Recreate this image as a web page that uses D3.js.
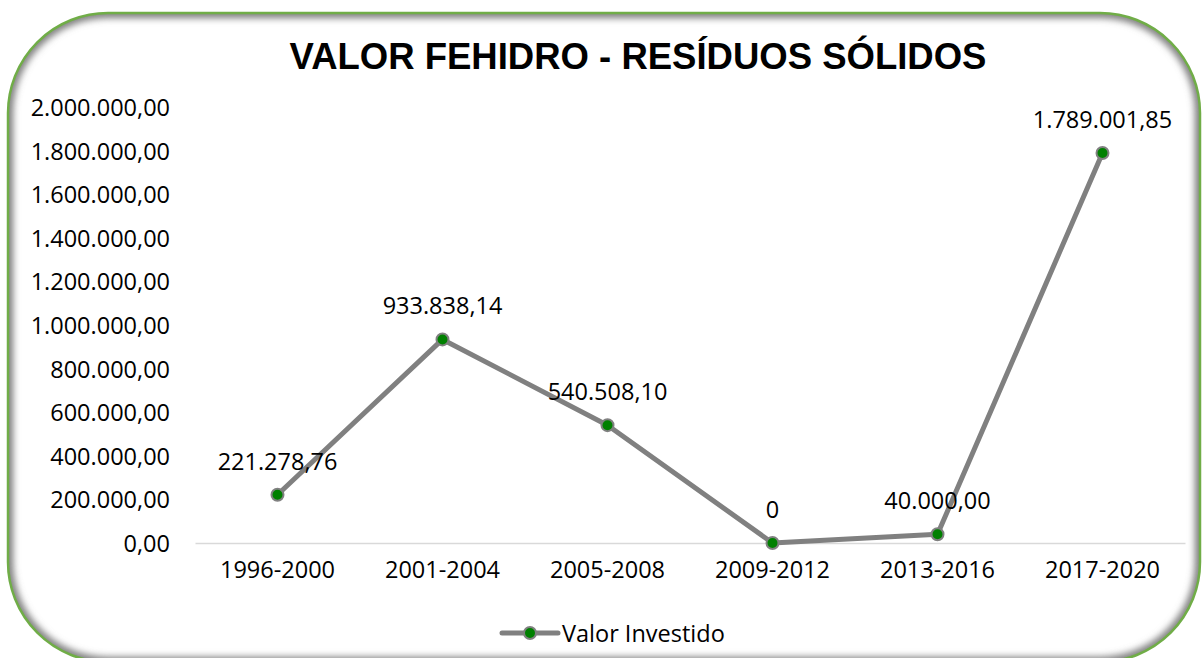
<!DOCTYPE html>
<html>
<head>
<meta charset="utf-8">
<script src="https://cdn.jsdelivr.net/npm/d3@7"></script>
<style>
  body { margin: 0; background: #fff; }
  svg { display: block; }
  text { font-family: "Open Sans", sans-serif; fill: #000; }
</style>
</head>
<body>
<script>
// chart data
var periods = ["1996-2000", "2001-2004", "2005-2008", "2009-2012", "2013-2016", "2017-2020"];
var valores = [221278.76, 933838.14, 540508.10, 0, 40000.00, 1789001.85];
var yTicks = [0, 200000, 400000, 600000, 800000, 1000000, 1200000, 1400000, 1600000, 1800000, 2000000];
var seriesName = "Valor Investido";
var title = "VALOR FEHIDRO - RESÍDUOS SÓLIDOS";

var W = 1202, H = 658;
var margin = {top: 107, right: 17, bottom: 115, left: 195};
var width = W - margin.left - margin.right,
    height = H - margin.top - margin.bottom;

var ptBR = d3.formatLocale({decimal: ",", thousands: ".", grouping: [3], currency: ["R$", ""]});
var fmt = ptBR.format(",.2f");

var svg = d3.select("body").append("svg")
    .attr("width", W)
    .attr("height", H);

var defs = svg.append("defs");
defs.append("filter").attr("id", "blur")
    .attr("x", "-5%").attr("y", "-5%").attr("width", "110%").attr("height", "110%")
    .append("feGaussianBlur").attr("stdDeviation", 3.5);

// rounded frame
var frame = {x: 8, y: 13, w: 1192, h: 649, r: 100};
defs.append("clipPath").attr("id", "frameclip")
    .append("rect")
    .attr("x", frame.x).attr("y", frame.y)
    .attr("width", frame.w).attr("height", frame.h)
    .attr("rx", frame.r).attr("ry", frame.r);

svg.append("rect")
    .attr("x", frame.x).attr("y", frame.y)
    .attr("width", frame.w).attr("height", frame.h)
    .attr("rx", frame.r).attr("ry", frame.r)
    .attr("fill", "#fff");

// inner shadow along the edge
svg.append("g").attr("clip-path", "url(#frameclip)")
  .append("rect")
    .attr("x", frame.x).attr("y", frame.y)
    .attr("width", frame.w).attr("height", frame.h)
    .attr("rx", frame.r).attr("ry", frame.r)
    .attr("fill", "none")
    .attr("stroke", "#7a7a7a")
    .attr("stroke-width", 10)
    .attr("filter", "url(#blur)");

svg.append("rect")
    .attr("x", frame.x).attr("y", frame.y)
    .attr("width", frame.w).attr("height", frame.h)
    .attr("rx", frame.r).attr("ry", frame.r)
    .attr("fill", "none")
    .attr("stroke", "#70ad47")
    .attr("stroke-width", 2.5);

// title
svg.append("text")
    .attr("x", 638)
    .attr("y", 69)
    .attr("text-anchor", "middle")
    .style("font-family", "'Liberation Sans', Arial, sans-serif")
    .style("font-weight", "bold")
    .style("font-size", "36.5px")
    .text(title);

var g = svg.append("g")
    .attr("transform", "translate(" + margin.left + "," + margin.top + ")");

var x = d3.scaleBand()
    .domain(periods)
    .range([0, width]);

var y = d3.scaleLinear()
    .domain([0, 2000000])
    .range([height, 0]);

// y axis (labels only)
var yAxis = g.append("g")
    .call(d3.axisLeft(y).tickValues(yTicks).tickSize(0).tickPadding(25).tickFormat(fmt));
yAxis.select(".domain").remove();
yAxis.selectAll("text")
    .style("font-family", "'Open Sans', sans-serif")
    .style("font-size", "23.5px")
    .attr("fill", "#000")
    .attr("dy", "0.36em");

// x axis
var xAxis = g.append("g")
    .attr("transform", "translate(0," + height + ")")
    .call(d3.axisBottom(x).tickSize(0).tickPadding(18));
xAxis.select(".domain").attr("stroke", "#d9d9d9").attr("stroke-width", 1.5);
xAxis.selectAll("text")
    .style("font-family", "'Open Sans', sans-serif")
    .style("font-size", "23.5px")
    .attr("fill", "#000")
    .attr("dy", "0.71em");

var pts = periods.map(function(p, i) { return {period: p, value: valores[i]}; });
var cx = function(d) { return x(d.period) + x.bandwidth() / 2; };

// line
g.append("path")
    .datum(pts)
    .attr("fill", "none")
    .attr("stroke", "#808080")
    .attr("stroke-width", 5)
    .attr("stroke-linejoin", "round")
    .attr("d", d3.line().x(cx).y(function(d) { return y(d.value); }));

// markers
g.selectAll("circle.pt")
    .data(pts)
  .enter().append("circle")
    .attr("class", "pt")
    .attr("cx", cx)
    .attr("cy", function(d) { return y(d.value); })
    .attr("r", 6)
    .attr("fill", "#008000")
    .attr("stroke", "#808080")
    .attr("stroke-width", 2);

// data labels
g.selectAll("text.lbl")
    .data(pts)
  .enter().append("text")
    .attr("class", "lbl")
    .attr("x", cx)
    .attr("y", function(d) { return y(d.value) - 25; })
    .attr("text-anchor", "middle")
    .style("font-size", "23.5px")
    .text(function(d) { return d.value === 0 ? "0" : fmt(d.value); });

// legend
var leg = svg.append("g").attr("transform", "translate(502,633)");
leg.append("line")
    .attr("x1", 0).attr("x2", 56)
    .attr("stroke", "#808080").attr("stroke-width", 5).attr("stroke-linecap", "round");
leg.append("circle")
    .attr("cx", 28).attr("r", 6)
    .attr("fill", "#008000").attr("stroke", "#808080").attr("stroke-width", 2);
leg.append("text")
    .attr("x", 60).attr("y", 9)
    .style("font-size", "23.5px")
    .text(seriesName);
</script>
</body>
</html>
